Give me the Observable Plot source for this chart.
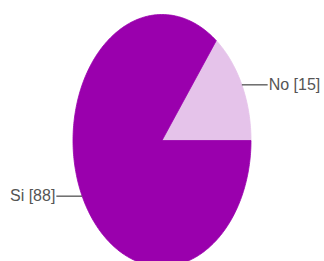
<!DOCTYPE html>
<html>
<head>
<meta charset="utf-8">
<script src="https://cdn.jsdelivr.net/npm/d3@7"></script>
<script src="https://cdn.jsdelivr.net/npm/@observablehq/plot@0.6"></script>
<style>
  html, body { margin: 0; padding: 0; background: #fff; overflow: hidden; }
</style>
</head>
<body>
<div id="chart"></div>
<script>
// Data
const categories = ["No", "Si"];
const values = [15, 88];
const colors = ["#e5c3ea", "#9a00ad"];

const total = d3.sum(values);
// Slices go counterclockwise starting at 3 o'clock (math angle 0)
let acc = 0;
const slicePts = [];
const labels = [];
categories.forEach((c, i) => {
  const a0 = acc / total * 2 * Math.PI;
  acc += values[i];
  const a1 = acc / total * 2 * Math.PI;
  const n = Math.max(4, Math.ceil((a1 - a0) / (Math.PI / 180)));
  slicePts.push({cat: c, x: 0, y: 0});
  for (let k = 0; k <= n; k++) {
    const a = a0 + (a1 - a0) * k / n;
    slicePts.push({cat: c, x: Math.cos(a), y: Math.sin(a)});
  }
  slicePts.push({cat: c, x: 0, y: 0});
  const am = (a0 + a1) / 2;
  const side = Math.cos(am) >= 0 ? 1 : -1;
  labels.push({cat: c, x1: Math.cos(am), y1: Math.sin(am), side, text: `${c} [${values[i]}]`});
});
const leaderLen = 0.29;
labels.forEach(d => { d.x2 = d.x1 + d.side * leaderLen; });

const plot = Plot.plot({
  width: 324,
  height: 261,
  margin: 0,
  x: {domain: [-1, 1], range: [72.5, 250.5], axis: null},
  y: {domain: [-1, 1], range: [266, 14], axis: null},
  color: {domain: categories, range: colors},
  style: {fontFamily: "'Liberation Sans', Arial, sans-serif", overflow: "visible"},
  marks: [
    Plot.line(slicePts, {x: "x", y: "y", z: "cat", fill: "cat", stroke: "cat", strokeWidth: 0.8, curve: "linear"}),
    Plot.link(labels, {x1: "x1", y1: "y1", x2: "x2", y2: "y1", stroke: "#444", strokeWidth: 1.2}),
    Plot.text(labels.filter(d => d.side > 0), {x: "x2", y: "y1", text: "text", textAnchor: "start", dx: 1, fill: "#555", fontSize: 16}),
    Plot.text(labels.filter(d => d.side < 0), {x: "x2", y: "y1", text: "text", textAnchor: "end", dx: -1, fill: "#555", fontSize: 16})
  ]
});
document.getElementById("chart").appendChild(plot);
</script>
</body>
</html>
